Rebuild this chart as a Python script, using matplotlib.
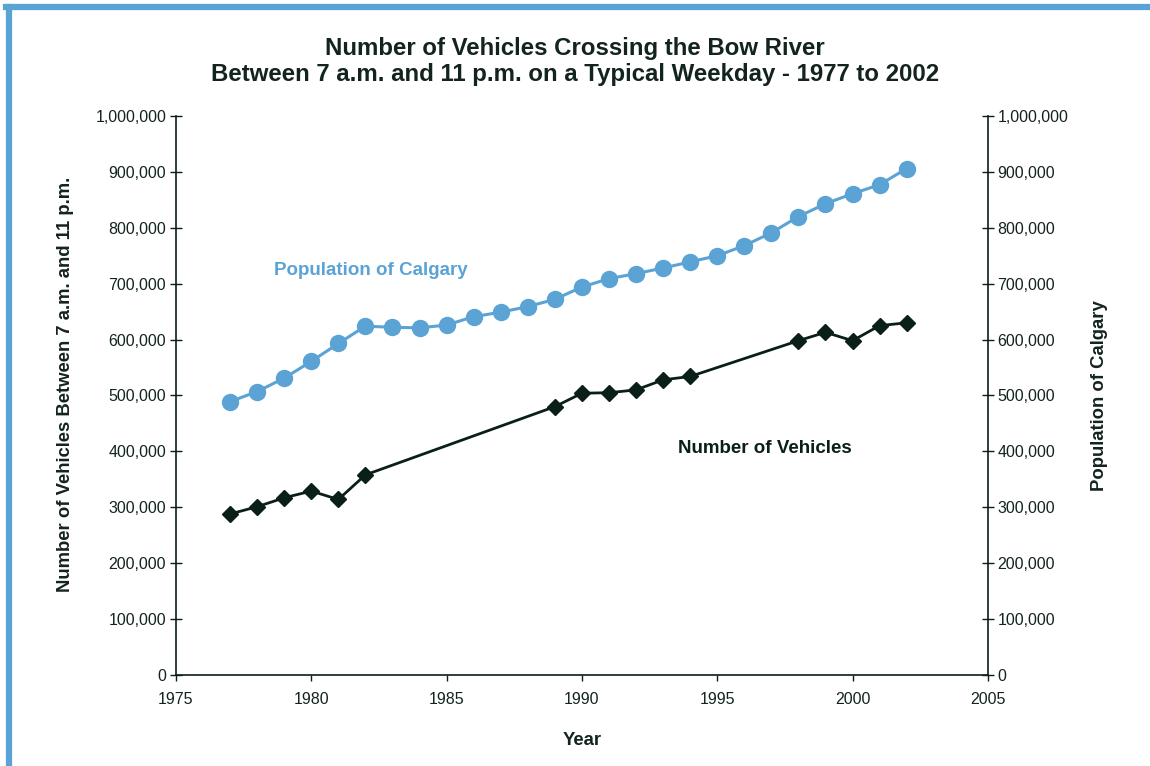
import matplotlib.pyplot as plt
from matplotlib.lines import Line2D
from matplotlib.ticker import FuncFormatter

plt.rcParams['font.family'] = ['Liberation Sans', 'DejaVu Sans']

# population of Calgary
pop_years = [1977, 1978, 1979, 1980, 1981, 1982, 1983, 1984, 1985, 1986, 1987, 1988, 1989,
             1990, 1991, 1992, 1993, 1994, 1995, 1996, 1997, 1998, 1999, 2000, 2001, 2002]
pop = [489000, 507000, 531000, 561000, 593000, 624000, 622000, 621000, 626000, 641000, 649000, 659000, 672000,
       694000, 709000, 718000, 728000, 739000, 750000, 768000, 791000, 820000, 843000, 861000, 877000, 906000]

# vehicles crossing the Bow River
veh_years = [1977, 1978, 1979, 1980, 1981, 1982, 1989, 1990, 1991, 1992, 1993, 1994,
             1998, 1999, 2000, 2001, 2002]
veh = [288000, 301000, 317000, 329000, 314000, 358000, 480000, 504000, 505000, 510000, 528000, 534000,
       598000, 613000, 598000, 625000, 630000]

blue = '#5BA3D5'
dark = '#0A1F17'
txt = '#13231D'

fig = plt.figure(figsize=(11.5, 7.66), dpi=100)
ax = fig.add_axes([0.153, 0.1188, 0.706, 0.7298])

ax.plot(pop_years, pop, color=blue, lw=2.2, marker='o', ms=11.5, zorder=3)
ax.plot(veh_years, veh, color=dark, lw=2.0, marker='D', ms=8, zorder=3)

ax.set_xlim(1975, 2005)
ax.set_ylim(0, 1000000)
ax.set_xticks(range(1975, 2006, 5))
ax.set_yticks(range(0, 1000001, 100000))
fmt = FuncFormatter(lambda v, p: f'{int(v):,}')
ax.yaxis.set_major_formatter(fmt)

ax2 = ax.twinx()
ax2.set_ylim(0, 1000000)
ax2.set_yticks(range(0, 1000001, 100000))
ax2.yaxis.set_major_formatter(fmt)

for a in (ax, ax2):
    a.spines['top'].set_visible(False)
    for s in a.spines.values():
        s.set_color(dark)
        s.set_linewidth(1.2)
ax.spines['right'].set_visible(False)
ax2.spines['left'].set_visible(False)
ax2.spines['bottom'].set_visible(False)

ax.tick_params(axis='y', direction='inout', length=8, width=1, colors=dark, labelcolor=txt, labelsize=11.5, pad=3)
ax2.tick_params(axis='y', direction='inout', length=8, width=1, colors=dark, labelcolor=txt, labelsize=11.5, pad=3)
ax.tick_params(axis='x', direction='out', length=4, width=1, colors=dark, labelcolor=txt, labelsize=11.5, pad=8)

ax.set_xlabel('Year', fontsize=13.3, fontweight='bold', color=txt, labelpad=18)
ax.set_ylabel('Number of Vehicles Between 7 a.m. and 11 p.m.', fontsize=13.3, fontweight='bold', color=txt)
ax.yaxis.set_label_coords(-0.125, 0.519)
ax2.set_ylabel('Population of Calgary', fontsize=13.3, fontweight='bold', color=txt, labelpad=16)

fig.text(0.5, 0.920, 'Number of Vehicles Crossing the Bow River\nBetween 7 a.m. and 11 p.m. on a Typical Weekday - 1977 to 2002',
         ha='center', va='center', fontsize=17.3, fontweight='bold', color=txt, linespacing=1.15)

ax.text(1982.2, 723000, 'Population of Calgary', color=blue, fontsize=13.5, fontweight='bold', ha='center', va='center')
ax.text(1996.75, 405000, 'Number of Vehicles', color=dark, fontsize=13.5, fontweight='bold', ha='center', va='center')

# blue frame on left and top
fig.add_artist(Line2D([0.0074, 0.0074], [0, 0.9915], transform=fig.transFigure, color=blue, lw=4.5))
fig.add_artist(Line2D([0.0053, 1.0], [0.9915, 0.9915], transform=fig.transFigure, color=blue, lw=4.5))

fig.savefig('out.png', dpi=100)
